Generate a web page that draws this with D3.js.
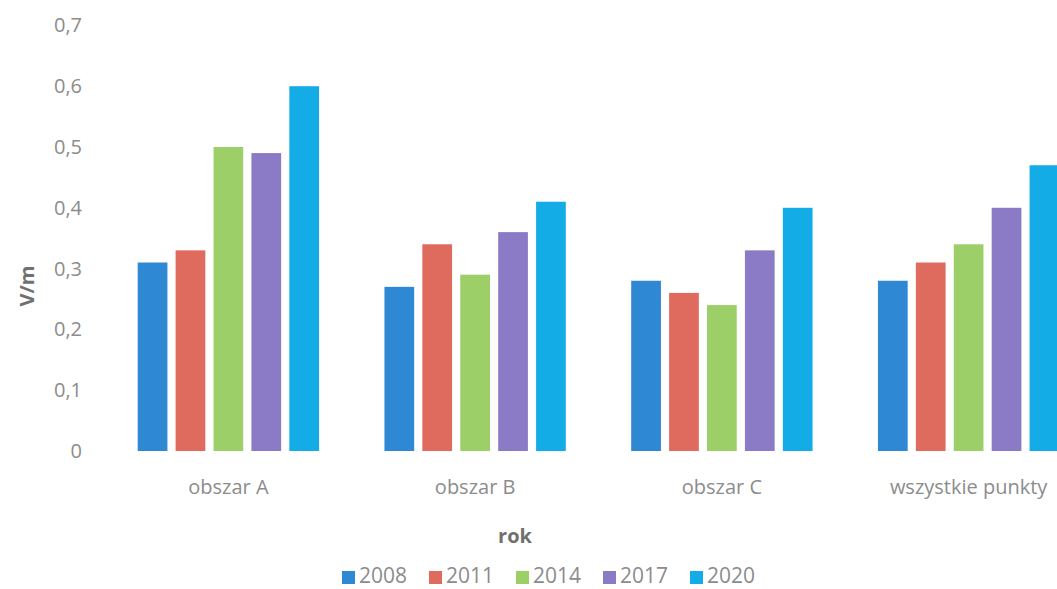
<!DOCTYPE html>
<html>
<head>
<meta charset="utf-8">
<script src="https://cdn.jsdelivr.net/npm/d3@7"></script>
<style>
  html, body { margin: 0; padding: 0; background: #fff; }
  svg { display: block; }
  text { font-family: "Open Sans", "Noto Sans", sans-serif; }
</style>
</head>
<body>
<svg id="chart" width="1057" height="589"></svg>
<script>
// Categories (measurement areas) and survey years
const categories = ["obszar A", "obszar B", "obszar C", "wszystkie punkty"];
const years = ["2008", "2011", "2014", "2017", "2020"];

// Mean field strength [V/m] per area, one array per year
const values2008 = [0.31, 0.27, 0.28, 0.28];
const values2011 = [0.33, 0.34, 0.26, 0.31];
const values2014 = [0.50, 0.29, 0.24, 0.34];
const values2017 = [0.49, 0.36, 0.33, 0.40];
const values2020 = [0.60, 0.41, 0.40, 0.47];

const yTicks = [0, 0.1, 0.2, 0.3, 0.4, 0.5, 0.6, 0.7];

const seriesValues = [values2008, values2011, values2014, values2017, values2020];
const colors = ["#2e88d4", "#df6a5e", "#9dcf69", "#8b7ac5", "#14ace6"];

const svg = d3.select("#chart");
const FONT = "'Open Sans', 'Noto Sans', sans-serif";

const x0 = d3.scaleBand()
  .domain(categories)
  .range([105, 1092])
  .paddingInner(0.265)
  .paddingOuter(0.1325);

const x1 = d3.scaleBand()
  .domain(years)
  .range([0, x0.bandwidth()])
  .paddingInner(0.216)
  .paddingOuter(0);

const y = d3.scaleLinear().domain([0, 0.7]).range([451, 25.4]);

const fmt = v => v === 0 ? "0" : d3.format(".1f")(v).replace(".", ",");

// Y axis: labels only, no line or tick marks
const yAxis = svg.append("g")
  .attr("transform", "translate(82,0)")
  .call(d3.axisLeft(y).tickValues(yTicks).tickSize(0).tickPadding(0).tickFormat(fmt));
yAxis.select(".domain").remove();
yAxis.selectAll("text")
  .attr("fill", "#8c8c8c")
  .style("font-size", "20px")
  .style("font-family", FONT);

// Bars
const groups = svg.append("g").selectAll("g")
  .data(categories)
  .join("g")
  .attr("transform", d => `translate(${x0(d)},0)`);

groups.selectAll("rect")
  .data((d, i) => years.map((yr, s) => ({ yr, s, v: seriesValues[s][i] })))
  .join("rect")
  .attr("x", d => x1(d.yr))
  .attr("width", x1.bandwidth())
  .attr("y", d => y(d.v))
  .attr("height", d => y(0) - y(d.v))
  .attr("fill", d => colors[d.s]);

// Category axis: labels only
const xAxis = svg.append("g")
  .attr("transform", `translate(0,${y(0)})`)
  .call(d3.axisBottom(x0).tickSize(0));
xAxis.select(".domain").remove();
xAxis.selectAll("text")
  .attr("y", 43)
  .attr("dy", 0)
  .attr("fill", "#8c8c8c")
  .style("font-size", "20px")
  .style("font-family", FONT);

// Axis titles
svg.append("text")
  .attr("x", 515).attr("y", 543)
  .attr("text-anchor", "middle")
  .attr("fill", "#707070")
  .style("font-size", "20px").style("font-weight", "bold")
  .text("rok");

svg.append("text")
  .attr("transform", "translate(34,286) rotate(-90)")
  .attr("text-anchor", "middle")
  .attr("fill", "#707070")
  .style("font-size", "20px").style("font-weight", "bold")
  .text("V/m");

// Legend
const legend = svg.append("g").attr("transform", "translate(342,0)");
const item = legend.selectAll("g")
  .data(years)
  .join("g")
  .attr("transform", (d, i) => `translate(${i * 87},0)`);
item.append("rect")
  .attr("x", 0).attr("y", 571)
  .attr("width", 13).attr("height", 13)
  .attr("fill", (d, i) => colors[i]);
item.append("text")
  .attr("x", 17).attr("y", 583)
  .attr("fill", "#8c8c8c")
  .style("font-size", "21px")
  .text(d => d);
</script>
</body>
</html>
